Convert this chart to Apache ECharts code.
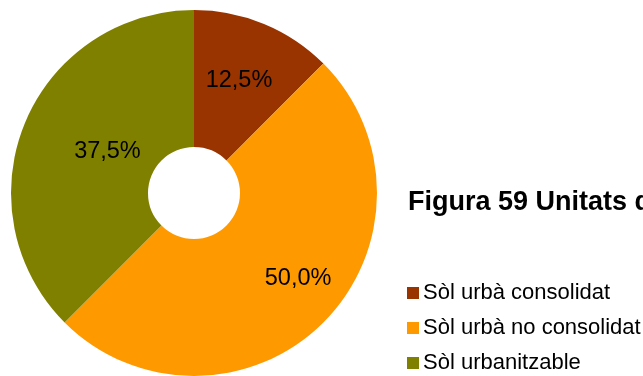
<!DOCTYPE html>
<html>
<head>
<meta charset="utf-8">
<script src="https://cdn.jsdelivr.net/npm/echarts@6/dist/echarts.min.js"></script>
<style>
  html, body { margin: 0; padding: 0; background: #fff; }
  #chart { width: 643px; height: 376px; }
</style>
</head>
<body>
<div id="chart"></div>
<script>
// Land categories and their share of the units
var categories = ['Sòl urbà consolidat', 'Sòl urbà no consolidat', 'Sòl urbanitzable'];
var shares = [12.5, 50.0, 37.5];
var sliceColors = ['#993300', '#FF9900', '#808000'];
// Nudges for the percentage labels inside each slice
var labelNudge = [[0, -4], [21, 2], [22, 3]];

var FONT = '"Liberation Sans", Arial, sans-serif';

var chart = echarts.init(document.getElementById('chart'), null, { renderer: 'canvas' });

var pieData = categories.map(function (name, i) {
  return {
    name: name,
    value: shares[i],
    itemStyle: { color: sliceColors[i] },
    label: { offset: labelNudge[i] }
  };
});

chart.setOption({
  animation: false,
  backgroundColor: '#ffffff',
  title: {
    text: 'Figura 59 Unitats d\u2019actuació segons el tipus de sòl',
    left: 408,
    top: 189,
    padding: 0,
    textStyle: {
      fontFamily: FONT,
      fontSize: 27,
      lineHeight: 27,
      fontWeight: 'bold',
      color: '#000'
    }
  },
  legend: {
    orient: 'vertical',
    left: 407,
    top: 282,
    padding: 0,
    itemWidth: 12,
    itemHeight: 12,
    itemGap: 13,
    icon: 'rect',
    selectedMode: false,
    data: categories,
    textStyle: {
      fontFamily: FONT,
      fontSize: 22,
      lineHeight: 22,
      color: '#000',
      padding: [0, 0, 0, -1]
    }
  },
  series: [{
    type: 'pie',
    center: [194, 193],
    radius: [46, 183],
    startAngle: 90,
    clockwise: true,
    silent: true,
    itemStyle: { borderWidth: 0 },
    label: {
      show: true,
      position: 'inside',
      fontFamily: FONT,
      fontSize: 23.5,
      color: '#000',
      formatter: function (p) {
        return p.value.toFixed(1).replace('.', ',') + '%';
      }
    },
    labelLine: { show: false },
    data: pieData
  }]
});
</script>
</body>
</html>
